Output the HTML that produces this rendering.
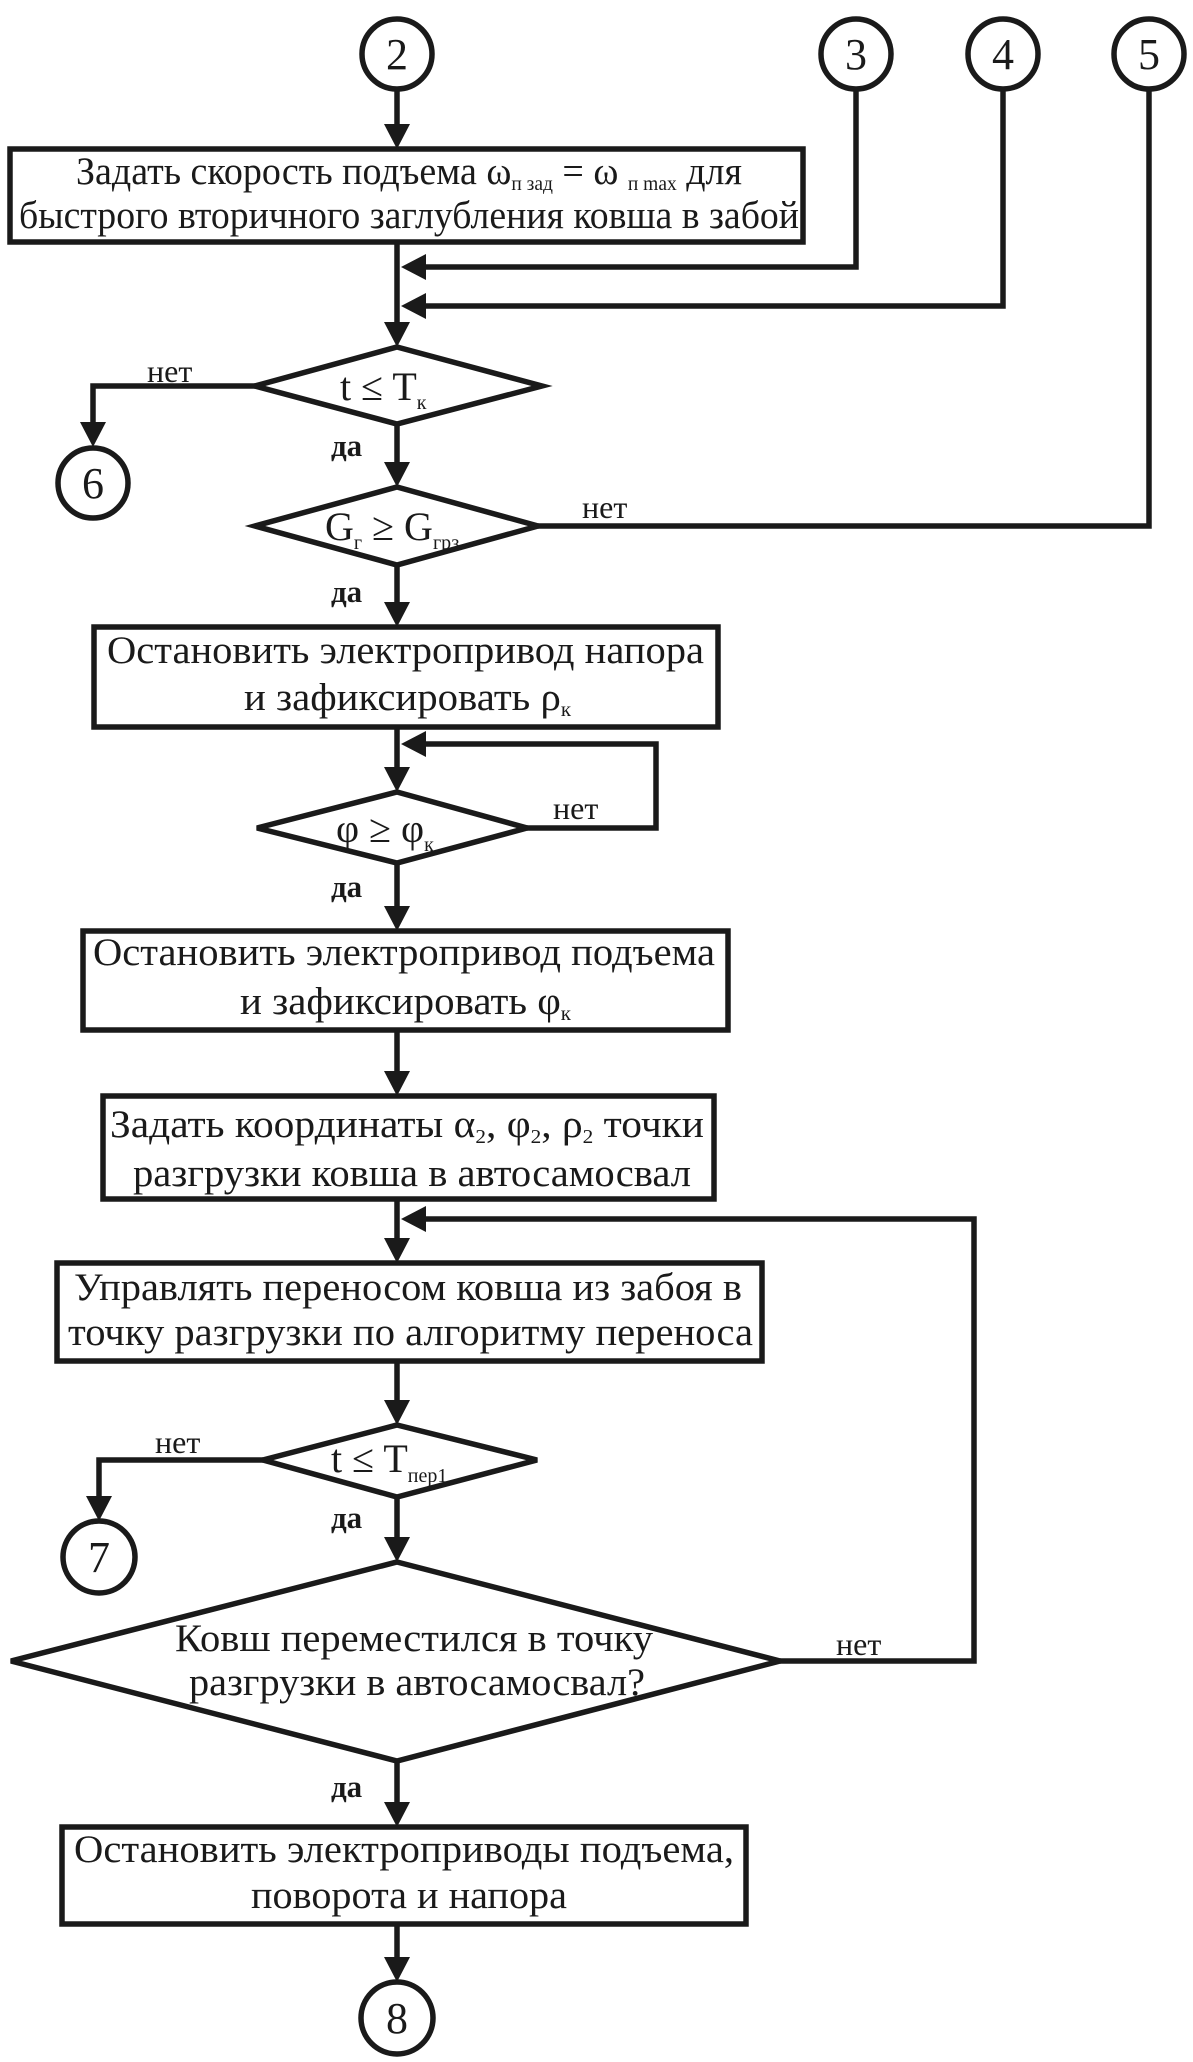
<!DOCTYPE html>
<html><head><meta charset="utf-8"><style>
html,body{margin:0;padding:0;background:#fff}
svg{display:block}
text{font-family:"Liberation Serif",serif;fill:#1a1a1a}
.t{font-size:39px}
.d{font-size:40px}
.l{font-size:32px}
.b{font-size:31px;font-weight:bold}
.s{font-size:20px}
</style></head><body>
<svg width="1193" height="2062" viewBox="0 0 1193 2062" xmlns="http://www.w3.org/2000/svg">
<g stroke="#1a1a1a" stroke-width="5.5" fill="none">
<circle cx="397" cy="54" r="35"/>
<circle cx="856" cy="54" r="35"/>
<circle cx="1003" cy="54" r="35"/>
<circle cx="1149" cy="54" r="35"/>
<circle cx="93" cy="483" r="35"/>
<circle cx="99" cy="1557" r="36"/>
<circle cx="397" cy="2018" r="36"/>
<rect x="10" y="149" width="793" height="93"/>
<rect x="94" y="627" width="624" height="100"/>
<rect x="83" y="931" width="645" height="99"/>
<rect x="103" y="1096" width="611" height="103"/>
<rect x="57" y="1263" width="705" height="98"/>
<rect x="62" y="1827" width="684" height="97"/>
<polygon points="397,347 542,386 397,424 255,386"/>
<polygon points="397,487 538,526 397,565 255,526"/>
<polygon points="397,792 527,828 397,863 257,828"/>
<polygon points="397,1425 537,1460 397,1497 263,1460"/>
<polygon points="397,1562 780,1661 397,1761 11,1661"/>
<line x1="397" y1="89" x2="397" y2="130"/>
<line x1="397" y1="242" x2="397" y2="326"/>
<polyline points="856,89 856,267 420,267"/>
<polyline points="1003,89 1003,306 420,306"/>
<polyline points="255,386 93,386 93,426"/>
<line x1="397" y1="424" x2="397" y2="466"/>
<polyline points="538,526 1149,526 1149,89"/>
<line x1="397" y1="565" x2="397" y2="606"/>
<line x1="397" y1="727" x2="397" y2="771"/>
<polyline points="527,828 656,828 656,744 420,744"/>
<line x1="397" y1="863" x2="397" y2="910"/>
<line x1="397" y1="1030" x2="397" y2="1075"/>
<line x1="397" y1="1199" x2="397" y2="1242"/>
<polyline points="780,1661 974,1661 974,1219 420,1219"/>
<line x1="397" y1="1361" x2="397" y2="1404"/>
<polyline points="263,1460 99,1460 99,1500"/>
<line x1="397" y1="1497" x2="397" y2="1541"/>
<line x1="397" y1="1761" x2="397" y2="1806"/>
<line x1="397" y1="1924" x2="397" y2="1961"/>
</g>
<g fill="#1a1a1a">
<polygon points="384,124 410,124 397,149"/>
<polygon points="384,322 410,322 397,347"/>
<polygon points="80,422 106,422 93,447"/>
<polygon points="384,462 410,462 397,487"/>
<polygon points="384,602 410,602 397,627"/>
<polygon points="384,767 410,767 397,792"/>
<polygon points="384,906 410,906 397,931"/>
<polygon points="384,1071 410,1071 397,1096"/>
<polygon points="384,1238 410,1238 397,1263"/>
<polygon points="384,1400 410,1400 397,1425"/>
<polygon points="86,1496 112,1496 99,1521"/>
<polygon points="384,1537 410,1537 397,1562"/>
<polygon points="384,1802 410,1802 397,1827"/>
<polygon points="384,1957 410,1957 397,1982"/>
<polygon points="426,254 426,280 401,267"/>
<polygon points="426,293 426,319 401,306"/>
<polygon points="426,731 426,757 401,744"/>
<polygon points="426,1206 426,1232 401,1219"/>
</g>
<g text-anchor="middle" style="font-size:44px">
<text x="397" y="69">2</text>
<text x="856" y="69">3</text>
<text x="1003" y="69">4</text>
<text x="1149" y="69">5</text>
<text x="93" y="498">6</text>
<text x="99" y="1572">7</text>
<text x="397" y="2033">8</text>
</g>
<text class="t" x="76" y="184" textLength="666" lengthAdjust="spacingAndGlyphs">Задать скорость подъема ω<tspan class="s" dy="6">п зад</tspan><tspan dy="-6"> = ω </tspan><tspan class="s" dy="6">п max</tspan><tspan dy="-6">  для</tspan></text>
<text class="t" x="19" y="228" textLength="780" lengthAdjust="spacingAndGlyphs">быстрого вторичного заглубления ковша в забой</text>
<text class="t" x="107" y="663" textLength="597" lengthAdjust="spacingAndGlyphs">Остановить электропривод напора</text>
<text class="t" x="244" y="710" textLength="327" lengthAdjust="spacingAndGlyphs">и зафиксировать ρ<tspan class="s" dy="6">к</tspan></text>
<text class="t" x="93" y="965" textLength="622" lengthAdjust="spacingAndGlyphs">Остановить электропривод подъема</text>
<text class="t" x="240" y="1014" textLength="331" lengthAdjust="spacingAndGlyphs">и зафиксировать φ<tspan class="s" dy="6">к</tspan></text>
<text class="t" x="110" y="1137" textLength="594" lengthAdjust="spacingAndGlyphs">Задать координаты α<tspan class="s" dy="6">2</tspan><tspan dy="-6">, φ</tspan><tspan class="s" dy="6">2</tspan><tspan dy="-6">, ρ</tspan><tspan class="s" dy="6">2</tspan><tspan dy="-6"> точки</tspan></text>
<text class="t" x="133" y="1186" textLength="558" lengthAdjust="spacingAndGlyphs">разгрузки ковша в автосамосвал</text>
<text class="t" x="74" y="1300" textLength="668" lengthAdjust="spacingAndGlyphs">Управлять переносом ковша из забоя в</text>
<text class="t" x="68" y="1345" textLength="685" lengthAdjust="spacingAndGlyphs">точку разгрузки по алгоритму переноса</text>
<text class="t" x="175" y="1651" textLength="478" lengthAdjust="spacingAndGlyphs">Ковш переместился в точку</text>
<text class="t" x="189" y="1695" textLength="456" lengthAdjust="spacingAndGlyphs">разгрузки в автосамосвал?</text>
<text class="t" x="74" y="1862" textLength="660" lengthAdjust="spacingAndGlyphs">Остановить электроприводы подъема,</text>
<text class="t" x="251" y="1908" textLength="316" lengthAdjust="spacingAndGlyphs">поворота и напора</text>
<text class="d" x="340" y="400">t  ≤ T<tspan class="s" dy="9">к</tspan></text>
<text class="d" x="325" y="540">G<tspan class="s" dy="9">г</tspan><tspan dy="-9"> ≥ G</tspan><tspan class="s" dy="9">грз</tspan></text>
<text class="d" x="336" y="842">φ  ≥ φ<tspan class="s" dy="9">к</tspan></text>
<text class="d" x="331" y="1472">t ≤ T<tspan class="s" dy="10">пер1</tspan></text>
<text class="l" x="147" y="382">нет</text>
<text class="l" x="582" y="518">нет</text>
<text class="l" x="553" y="819">нет</text>
<text class="l" x="155" y="1453">нет</text>
<text class="l" x="836" y="1655">нет</text>
<text class="b" x="331" y="456">да</text>
<text class="b" x="331" y="602">да</text>
<text class="b" x="331" y="897">да</text>
<text class="b" x="331" y="1528">да</text>
<text class="b" x="331" y="1797">да</text>
</svg>
</body></html>
